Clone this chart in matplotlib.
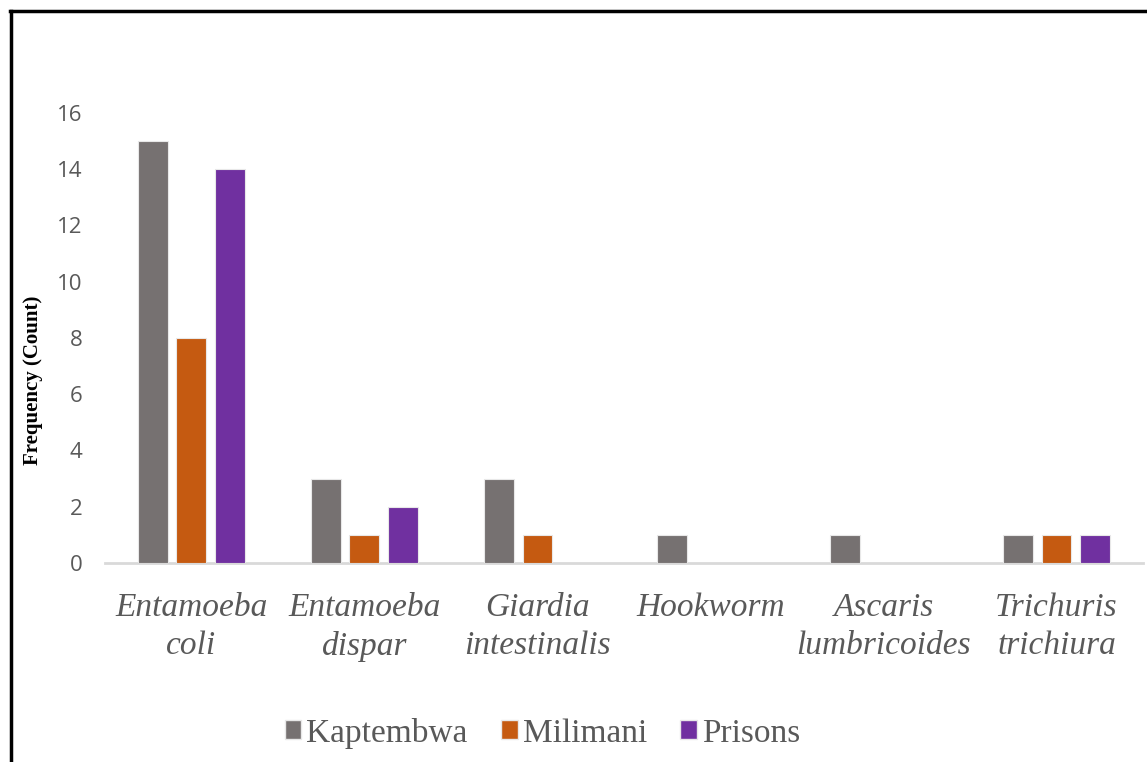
import matplotlib.pyplot as plt
import numpy as np
from matplotlib.lines import Line2D
from matplotlib.patches import Patch

# Parasite counts per site
parasites = ['Entamoeba\ncoli', 'Entamoeba\ndispar', 'Giardia\nintestinalis',
             'Hookworm', 'Ascaris\nlumbricoides', 'Trichuris\ntrichiura']
kaptembwa = [15, 3, 3, 1, 1, 1]
milimani = [8, 1, 1, 0, 0, 1]
prisons = [14, 2, 0, 0, 0, 1]
yticks = [0, 2, 4, 6, 8, 10, 12, 14, 16]

sites = ['Kaptembwa', 'Milimani', 'Prisons']
colors = ['#767171', '#C55A11', '#7030A0']

fig = plt.figure(figsize=(11.47, 7.62), dpi=100)
ax = fig.add_axes([0.0915, 0.2612, 0.905, 0.5905])

x = np.arange(len(parasites))
w = 0.173
step = 0.223
for i, (vals, c) in enumerate(zip([kaptembwa, milimani, prisons], colors)):
    ax.bar(x + (i - 1) * step, vals, width=w, color=c,
           edgecolor='#e8e8e8', linewidth=0.8, zorder=3)

ax.set_xlim(-0.5, len(parasites) - 0.5)
ax.set_ylim(0, 16)
ax.set_yticks(yticks)
ax.set_yticklabels([str(t) for t in yticks], fontsize=16, color='#595959',
                   family='Open Sans')
ax.set_xticks(x)
ax.set_xticklabels(parasites, fontsize=24, color='#595959',
                   family='Liberation Serif', style='italic', linespacing=1.35)
ax.tick_params(length=0)
ax.tick_params(axis='y', pad=16)
ax.tick_params(axis='x', pad=21)

for s in ['top', 'right', 'left']:
    ax.spines[s].set_visible(False)
ax.spines['bottom'].set_color('#d9d9d9')
ax.spines['bottom'].set_linewidth(2)

ax.set_ylabel('Frequency (Count)', fontsize=15, fontweight='bold',
              family='Liberation Serif')
ax.yaxis.set_label_coords(-0.06, 0.407)

handles = [Patch(facecolor=c, edgecolor='#e8e8e8', label=s) for s, c in zip(sites, colors)]
leg = fig.legend(handles=handles, loc='center', bbox_to_anchor=(0.473, 0.038),
                 ncol=3, frameon=False, handlelength=0.5, handleheight=0.5,
                 handletextpad=0.15, columnspacing=1.0,
                 prop={'family': 'Liberation Serif', 'size': 24})
for t in leg.get_texts():
    t.set_color('#595959')

# outer frame: left and top edges
fig.add_artist(Line2D([0.0095, 0.0095], [0, 0.986], color='black', lw=2.5,
                      transform=fig.transFigure))
fig.add_artist(Line2D([0.0085, 1.0], [0.985, 0.985], color='black', lw=2.5,
                      transform=fig.transFigure))

fig.savefig('out.png', dpi=100)
